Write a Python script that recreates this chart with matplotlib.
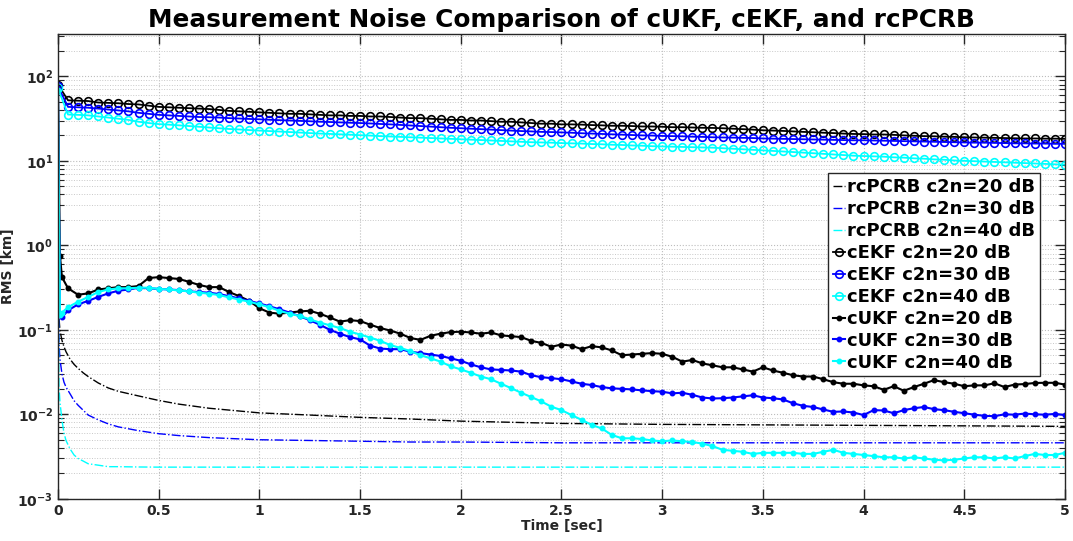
import numpy as np
import matplotlib
matplotlib.use("Agg")
import matplotlib.pyplot as plt
from matplotlib.ticker import FixedLocator, LogLocator, FuncFormatter, NullFormatter

# time grid for the filters (0.05 s steps, plus two early samples)
t_filt = [0.0, 0.01, 0.02] + [round(0.05 * k, 2) for k in range(1, 101)]
t_ekf = [round(0.05 * k, 2) for k in range(0, 101)]
t_bound = [0.0, 0.005, 0.01, 0.02, 0.03, 0.04, 0.06, 0.08, 0.1, 0.125, 0.15, 0.2, 0.25, 0.3,
           0.4, 0.5, 0.6, 0.75, 1.0, 1.25, 1.5, 1.75, 2.0, 2.5, 3.0, 3.5, 4.0, 4.5, 5.0]

# rcPCRB bounds
pcrb_20 = [1.0, 0.14, 0.098, 0.075, 0.063, 0.055, 0.045, 0.039, 0.035, 0.031, 0.028, 0.0235, 0.0205, 0.0187,
           0.0165, 0.0146, 0.0132, 0.0118, 0.0104, 0.0098, 0.0092, 0.0088, 0.0083, 0.0078, 0.0076, 0.0075,
           0.0074, 0.0073, 0.0072]
pcrb_30 = [1.0, 0.07, 0.045, 0.030, 0.024, 0.021, 0.0175, 0.0145, 0.0128, 0.0112, 0.0098, 0.0086, 0.0077, 0.0071,
           0.0064, 0.0059, 0.0056, 0.0053, 0.0050, 0.0049, 0.0048, 0.0047, 0.0047, 0.0046, 0.0046, 0.0046,
           0.0046, 0.0046, 0.0046]
pcrb_40 = [1.0, 0.022, 0.014, 0.0085, 0.006, 0.0049, 0.0039, 0.0033, 0.0030, 0.0028, 0.0026, 0.0025, 0.0024, 0.0024,
           0.00238, 0.00237, 0.00237, 0.00237, 0.00237, 0.00237, 0.00237, 0.00237, 0.00237, 0.00237, 0.00237,
           0.00237, 0.00237, 0.00237, 0.00237]

# cEKF
ekf_20 = [80, 52, 51.5, 51, 49, 48.5, 48, 47, 46.5, 45, 43.5, 43, 42.5, 42, 41.5, 41, 40, 39, 38.5, 38,
          37.5, 37, 36.5, 36, 36, 35.5, 35, 34.5, 34.5, 34, 34, 33.5, 33.5, 33, 32.5, 32, 32, 31.5, 31, 30.5,
          30.5, 30, 30, 29.5, 29, 29, 28.5, 28, 27.5, 27.5, 27, 27, 26.8, 26.5, 26.3, 26, 26, 25.8, 25.5, 25.5,
          25.3, 25, 25, 24.8, 24.6, 24.5, 24.3, 24, 23.7, 23.4, 23, 22.8, 22.6, 22.3, 22, 21.8, 21.5, 21.3, 21, 20.8,
          20.7, 20.5, 20.5, 20.3, 20, 19.8, 19.6, 19.5, 19.3, 19.2, 19, 18.9, 18.8, 18.7, 18.6, 18.5, 18.4, 18.4,
          18.3, 18.3, 18.2]
ekf_30 = [76, 43.5, 43, 42.5, 41.5, 40.5, 39.5, 38.5, 37, 36, 35, 34.5, 34, 33.5, 33, 32.8, 32.5, 32, 31.7, 31.3,
          31, 30.6, 30.3, 30, 29.7, 29.4, 29, 28.8, 28.5, 28.2, 28, 27.7, 27.3, 27, 26.6, 26.2, 25.8, 25.4, 25, 24.6,
          24.3, 24, 23.7, 23.4, 23.1, 22.8, 22.5, 22.3, 22, 21.9, 21.7, 21.5, 21.2, 21, 20.8, 20.6, 20.4, 20.2, 20, 19.9,
          19.7, 19.6, 19.5, 19.3, 19.2, 19, 18.9, 18.8, 18.7, 18.6, 18.4, 18.3, 18.2, 18.1, 18, 17.9, 17.8, 17.7, 17.6,
          17.5, 17.5, 17.4, 17.3, 17.2, 17.1, 17, 16.9, 16.8, 16.7, 16.6, 16.5, 16.4, 16.4, 16.3, 16.2, 16.1, 16.1, 16,
          16, 15.9, 15.9]
ekf_40 = [72, 35.3, 35, 34.5, 33.5, 32.5, 31.5, 30.5, 29, 28, 27.2, 26.8, 26.3, 25.8, 25.3, 24.8, 24.3, 23.8, 23.5,
          23.1, 22.8, 22.5, 22.2, 21.9, 21.6, 21.3, 21, 20.8, 20.6, 20.4, 20.1, 19.9, 19.6, 19.4, 19.2, 19, 18.8, 18.6,
          18.4, 18.2, 18, 17.8, 17.6, 17.4, 17.2, 17, 16.8, 16.6, 16.5, 16.4, 16.2, 16.1, 16, 15.8, 15.7, 15.5, 15.4,
          15.2, 15.1, 14.9, 14.8, 14.7, 14.6, 14.5, 14.4, 14.3, 14.1, 13.9, 13.7, 13.5, 13.3, 13.1, 12.9, 12.7, 12.5,
          12.3, 12.1, 11.9, 11.7, 11.5, 11.4, 11.3, 11.2, 11, 10.9, 10.7, 10.6, 10.4, 10.3, 10.1, 10, 9.9, 9.8, 9.7,
          9.6, 9.5, 9.4, 9.3, 9.2, 9.1, 9.0]

# cUKF
ukf_20 = [75, 0.75, 0.42, 0.31, 0.26, 0.27, 0.30, 0.31, 0.32, 0.32, 0.33, 0.41, 0.42, 0.41, 0.40, 0.37, 0.34, 0.32,
          0.32, 0.28, 0.25, 0.22, 0.18, 0.16, 0.155, 0.16, 0.165, 0.168, 0.155, 0.14, 0.125, 0.13, 0.127, 0.115,
          0.105, 0.098, 0.09, 0.08, 0.076, 0.085, 0.09, 0.094, 0.095, 0.093, 0.09, 0.093, 0.086, 0.084, 0.082,
          0.074, 0.07, 0.063, 0.067, 0.065, 0.059, 0.064, 0.062, 0.057, 0.05, 0.051, 0.052, 0.053, 0.052, 0.048,
          0.042, 0.044, 0.04, 0.038, 0.036, 0.036, 0.034, 0.032, 0.036, 0.033, 0.031, 0.029, 0.028, 0.028, 0.026,
          0.024, 0.023, 0.023, 0.022, 0.0215, 0.0195, 0.0215, 0.019, 0.021, 0.023, 0.0254, 0.024, 0.023, 0.0215,
          0.022, 0.022, 0.0233, 0.021, 0.0225, 0.0228, 0.0235, 0.0236, 0.0236, 0.0225]
ukf_30 = [72, 0.15, 0.14, 0.17, 0.20, 0.22, 0.245, 0.27, 0.29, 0.30, 0.315, 0.31, 0.305, 0.30, 0.295, 0.285, 0.28,
          0.275, 0.265, 0.25, 0.235, 0.22, 0.205, 0.19, 0.175, 0.16, 0.145, 0.13, 0.115, 0.10, 0.09, 0.082, 0.077,
          0.065, 0.06, 0.059, 0.059, 0.055, 0.053, 0.051, 0.049, 0.046, 0.043, 0.039, 0.036, 0.034, 0.0335, 0.033,
          0.032, 0.029, 0.0275, 0.0268, 0.026, 0.0245, 0.023, 0.0222, 0.021, 0.0203, 0.020, 0.0197, 0.0192, 0.0188,
          0.0185, 0.0177, 0.018, 0.017, 0.0158, 0.0154, 0.0155, 0.0158, 0.0163, 0.0168, 0.0158, 0.0155, 0.015,
          0.0135, 0.0126, 0.0122, 0.0114, 0.0107, 0.0108, 0.0105, 0.0098, 0.0112, 0.0111, 0.0103, 0.0112, 0.0118,
          0.0122, 0.0115, 0.0112, 0.0107, 0.0103, 0.0099, 0.0096, 0.0095, 0.0100, 0.0099, 0.0102, 0.0100, 0.0099,
          0.0101, 0.0098]
ukf_40 = [68, 0.15, 0.16, 0.185, 0.215, 0.245, 0.28, 0.30, 0.31, 0.31, 0.315, 0.315, 0.305, 0.30, 0.292, 0.285,
          0.275, 0.268, 0.258, 0.242, 0.228, 0.215, 0.20, 0.185, 0.168, 0.155, 0.146, 0.133, 0.122, 0.113, 0.105,
          0.095, 0.088, 0.081, 0.074, 0.066, 0.061, 0.056, 0.050, 0.046, 0.042, 0.037, 0.034, 0.031, 0.028, 0.026,
          0.023, 0.0204, 0.018, 0.016, 0.0142, 0.0123, 0.0112, 0.0098, 0.0086, 0.0075, 0.0068, 0.0057, 0.0052,
          0.0052, 0.0051, 0.0049, 0.0048, 0.0049, 0.0048, 0.0047, 0.0045, 0.0042, 0.0038, 0.0037, 0.0036, 0.0034,
          0.0035, 0.0035, 0.0035, 0.0035, 0.0034, 0.0034, 0.0036, 0.0038, 0.0035, 0.0034, 0.0033, 0.0032, 0.0031,
          0.0031, 0.0030, 0.0031, 0.0030, 0.0029, 0.00285, 0.0029, 0.0030, 0.0031, 0.0031, 0.0030, 0.0031, 0.0030,
          0.0032, 0.0034, 0.0033, 0.0033, 0.0035]

x_ticks = [0, 0.5, 1, 1.5, 2, 2.5, 3, 3.5, 4, 4.5, 5]
x_labels = ['0', '0.5', '1', '1.5', '2', '2.5', '3', '3.5', '4', '4.5', '5']

txt = '#262626'
k, b, c = '#000000', '#0000ff', '#00ffff'
plt.rcParams['font.family'] = ['DejaVu Sans']
plt.rcParams['font.weight'] = 'bold'

fig = plt.figure(figsize=(10.73, 5.41), dpi=100)
ax = fig.add_axes([0.054, 0.078, 0.9385, 0.859])

ax.plot(t_bound, pcrb_20, '-.', color=k, lw=1.0, label='rcPCRB c2n=20 dB')
ax.plot(t_bound, pcrb_30, '-.', color=b, lw=1.0, label='rcPCRB c2n=30 dB')
ax.plot(t_bound, pcrb_40, '-.', color=c, lw=1.0, label='rcPCRB c2n=40 dB')

ax.plot(t_ekf, ekf_20, '-o', color=k, lw=1.3, ms=5.5, mfc='none', mew=1.2, label='cEKF c2n=20 dB')
ax.plot(t_ekf, ekf_30, '-o', color=b, lw=1.3, ms=5.5, mfc='none', mew=1.2, label='cEKF c2n=30 dB')
ax.plot(t_ekf, ekf_40, '-o', color=c, lw=1.3, ms=5.5, mfc='none', mew=1.2, label='cEKF c2n=40 dB')

ax.plot(t_filt, ukf_20, '.-', color=k, lw=1.5, ms=6.5, label='cUKF c2n=20 dB')
ax.plot(t_filt, ukf_30, '.-', color=b, lw=1.5, ms=6.5, label='cUKF c2n=30 dB')
ax.plot(t_filt, ukf_40, '.-', color=c, lw=1.5, ms=6.5, label='cUKF c2n=40 dB')

ax.set_yscale('log')
ax.set_xlim(0, 5)
ax.set_ylim(1e-3, 10 ** 2.5)
ax.xaxis.set_major_locator(FixedLocator(x_ticks))
ax.set_xticklabels(x_labels)
ax.yaxis.set_major_locator(LogLocator(base=10, numticks=10))
ax.yaxis.set_minor_locator(LogLocator(base=10, subs=np.arange(2, 10), numticks=20))
ax.yaxis.set_major_formatter(FuncFormatter(lambda v, p: r'$\mathbf{10^{%d}}$' % round(np.log10(v))))
ax.yaxis.set_minor_formatter(NullFormatter())

ax.grid(True, which='major', linestyle=':', color='#bdbdbd', lw=0.8)
ax.grid(True, which='minor', axis='y', linestyle=':', color='#c8c8c8', lw=0.7)
ax.tick_params(which='both', direction='in', top=True, right=True, colors=txt, labelsize=10)
ax.tick_params(which='major', length=7, width=1)
ax.tick_params(which='minor', length=4, width=0.8)
for s in ax.spines.values():
    s.set_color(txt)
    s.set_linewidth(1.0)
for lab in ax.get_xticklabels():
    lab.set_fontweight('bold')

ax.set_xlabel('Time [sec]', fontsize=10, fontweight='bold', color=txt, labelpad=1)
ax.set_ylabel('RMS [km]', fontsize=10, fontweight='bold', color=txt, labelpad=2)
ax.set_title('Measurement Noise Comparison of cUKF, cEKF, and rcPCRB', fontsize=17.8,
             fontweight='bold', color='k', pad=5)

leg = ax.legend(loc='upper right', bbox_to_anchor=(0.975, 0.70), fontsize=13, fancybox=False,
                edgecolor='#262626', framealpha=1, handlelength=0.7, handletextpad=0.1,
                labelspacing=0.22, borderpad=0.25, borderaxespad=0)
leg.get_frame().set_linewidth(1.0)
for tx in leg.get_texts():
    tx.set_fontweight('bold')

fig.savefig('out.png', dpi=100)
